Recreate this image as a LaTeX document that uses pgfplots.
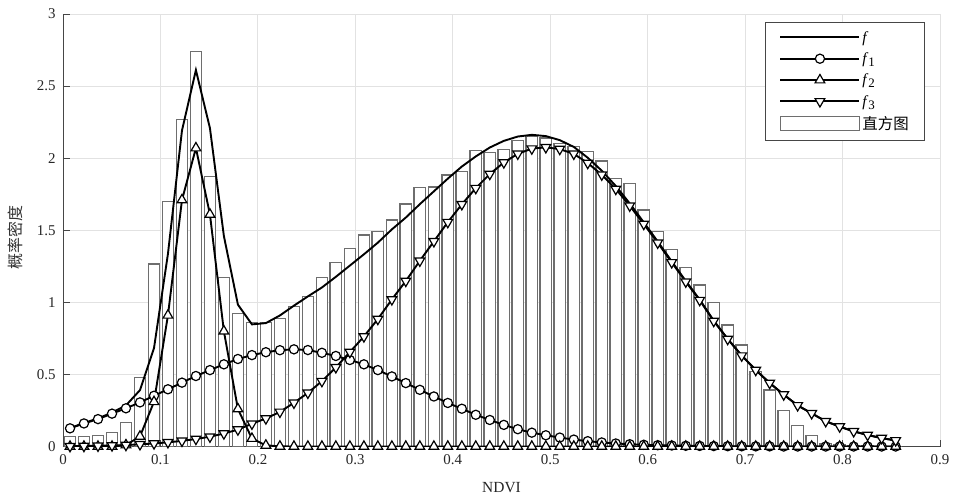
\documentclass[border=0pt]{standalone}
\usepackage{fontspec}
\setmainfont{Liberation Serif}
\newfontfamily\cjk{Noto Sans CJK SC}
\usepackage{pgfplots}
\usepackage{pgfplotstable}
\pgfplotsset{compat=1.18}
\definecolor{gridc}{RGB}{226,226,226}
\definecolor{axc}{RGB}{70,70,70}
\definecolor{barc}{RGB}{110,110,110}
\newcommand{\fsub}[1]{\textit{f}\raisebox{-0.45ex}{\fontsize{13}{15}\selectfont #1}}

\pgfplotstableread{
x hist f f1 f2 f3
0.0072 0.068 0.128 0.126 0 0.002
0.0215 0.070 0.163 0.160 0 0.003
0.0359 0.075 0.195 0.190 0 0.005
0.0503 0.096 0.235 0.228 0 0.007
0.0646 0.165 0.285 0.265 0.010 0.010
0.0790 0.477 0.391 0.306 0.070 0.015
0.0934 1.266 0.683 0.352 0.310 0.021
0.1077 1.698 1.336 0.397 0.910 0.029
0.1221 2.270 2.192 0.443 1.710 0.039
0.1364 2.738 2.611 0.489 2.070 0.052
0.1508 1.871 2.208 0.530 1.610 0.068
0.1651 1.171 1.460 0.570 0.800 0.090
0.1795 0.924 0.984 0.607 0.260 0.117
0.1939 0.859 0.847 0.634 0.055 0.158
0.2082 0.860 0.856 0.654 0.008 0.194
0.2226 0.889 0.909 0.668 0.001 0.240
0.2370 0.970 0.977 0.674 0 0.303
0.2513 1.039 1.041 0.669 0 0.372
0.2657 1.173 1.103 0.650 0 0.453
0.2800 1.275 1.177 0.628 0 0.549
0.2944 1.374 1.255 0.600 0 0.655
0.3088 1.467 1.333 0.570 0 0.763
0.3231 1.490 1.414 0.530 0 0.884
0.3375 1.571 1.506 0.486 0 1.020
0.3518 1.682 1.588 0.440 0 1.148
0.3662 1.795 1.681 0.393 0 1.288
0.3806 1.800 1.770 0.347 0 1.423
0.3949 1.883 1.858 0.302 0 1.556
0.4093 1.906 1.942 0.262 0 1.680
0.4236 2.051 2.012 0.220 0 1.792
0.4380 2.037 2.074 0.184 0 1.890
0.4524 2.061 2.120 0.150 0 1.970
0.4667 2.125 2.150 0.120 0 2.030
0.4811 2.153 2.162 0.096 0 2.066
0.4955 2.140 2.153 0.078 0 2.075
0.5098 2.100 2.125 0.062 0 2.063
0.5242 2.080 2.078 0.048 0 2.030
0.5385 2.044 2.003 0.037 0 1.966
0.5529 1.980 1.913 0.028 0 1.885
0.5673 1.860 1.807 0.021 0 1.786
0.5816 1.825 1.686 0.016 0 1.670
0.5960 1.640 1.555 0.012 0 1.543
0.6103 1.490 1.422 0.009 0 1.413
0.6247 1.365 1.284 0.007 0 1.277
0.6391 1.240 1.148 0.005 0 1.143
0.6534 1.120 1.019 0.004 0 1.015
0.6678 1.000 0.873 0.003 0 0.870
0.6821 0.843 0.747 0.002 0 0.745
0.6965 0.704 0.632 0.0015 0 0.630
0.7109 0.520 0.531 0.001 0 0.530
0.7252 0.392 0.441 0.001 0 0.440
0.7396 0.247 0.360 0 0 0.360
0.7539 0.147 0.285 0 0 0.285
0.7683 0.075 0.230 0 0 0.230
0.7827 0.020 0.175 0 0 0.175
0.7970 0.010 0.138 0 0 0.138
0.8114 0.005 0.105 0 0 0.105
0.8257 0.003 0.080 0 0 0.080
0.8401 0.002 0.058 0 0 0.058
0.8545 0.001 0.042 0 0 0.042
}\data

\begin{document}
\begin{tikzpicture}
\begin{axis}[
  name=ax,
  scale only axis, width=877bp, height=432.5bp,
  xmin=0, xmax=0.9, ymin=0, ymax=3,
  xtick={0,0.1,0.2,0.3,0.4,0.5,0.6,0.7,0.8,0.9},
  ytick={0,0.5,1,1.5,2,2.5,3},
  axis x line*=bottom, axis y line*=left,
  axis line style={-, draw=axc, line width=0.8bp},
  grid=major, major grid style={draw=gridc, line width=0.8bp},
  tick style={draw=axc, line width=0.8bp},
  major tick length=7bp,
  tick align=inside,
  /pgf/number format/assume math mode=true,
  tick label style={font=\fontsize{15}{17}\selectfont, text=black!85},
  xticklabel style={yshift=-5bp, /pgf/number format/fixed},
  yticklabel style={xshift=-4bp},
  xlabel={NDVI}, ylabel={\cjk 概率密度},
  xlabel style={at={(axis description cs:0.5,-0.096)}, anchor=center, font=\fontsize{15.5}{17}\selectfont, text=black!85},
  ylabel style={at={(axis description cs:-0.054,0.483)}, anchor=center, font=\fontsize{16}{18}\selectfont, text=black!80},
  legend style={at={(0.983,0.982)}, anchor=north east, draw=axc, line width=0.8bp, fill=white,
    font=\fontsize{15.5}{17}\selectfont, row sep=5bp, inner xsep=14bp, inner ysep=7bp,
    /tikz/every even column/.append style={column sep=7bp}},
  legend cell align=left,
  legend image code/.code={\draw[mark repeat=2,mark phase=2,#1] plot coordinates {(0bp,0bp) (39.5bp,0bp) (79bp,0bp)};},
]
\addplot[ybar, bar shift=0pt, bar width=0.0118, draw=barc, fill=white, line width=1.2bp, forget plot] table[x=x,y=hist]{\data};
\addplot[black, line width=1.9bp, no markers] table[x=x,y=f]{\data};
\addlegendentry{\textit{f}}
\addplot[black, line width=1.9bp, mark=*, mark size=4.6bp, mark options={fill=white, draw=black, line width=1.2bp}] table[x=x,y=f1]{\data};
\addlegendentry{\fsub{1}}
\addplot[black, line width=1.9bp, mark=triangle*, mark size=5.6bp, mark options={fill=white, draw=black, line width=1.2bp}] table[x=x,y=f2]{\data};
\addlegendentry{\fsub{2}}
\addplot[black, line width=1.9bp, mark=triangle*, mark size=5.6bp, mark options={rotate=180, fill=white, draw=black, line width=1.2bp}] table[x=x,y=f3]{\data};
\addlegendentry{\fsub{3}}
\addlegendimage{legend image code/.code={\draw[draw=barc, fill=white, line width=1.2bp] (0bp,-7bp) rectangle (79bp,7bp);}}
\addlegendentry{\cjk 直方图}
\end{axis}
\pgfresetboundingbox
\path ([xshift=-63bp,yshift=-51.5bp]ax.south west) rectangle ([xshift=18bp,yshift=14bp]ax.north east);
\end{tikzpicture}
\end{document}
